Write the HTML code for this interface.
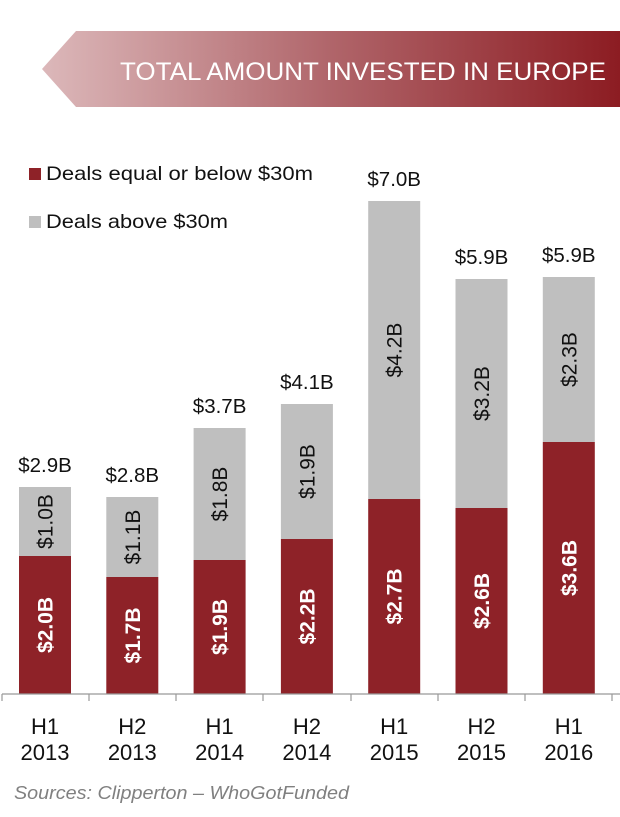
<!DOCTYPE html>
<html><head><meta charset="utf-8"><style>
html,body{margin:0;padding:0;background:#fff;}
svg{display:block;font-family:"Liberation Sans",sans-serif;}
</style></head><body>
<svg width="620" height="817" viewBox="0 0 620 817" xmlns="http://www.w3.org/2000/svg">
<defs>
<linearGradient id="g" x1="0" x2="1" y1="0" y2="0">
<stop offset="0" stop-color="#dcb8ba"/>
<stop offset="0.5" stop-color="#b0656a"/>
<stop offset="1" stop-color="#8c1c22"/>
</linearGradient>
</defs>
<polygon points="76,31 620,31 620,107 76,107 42,69" fill="url(#g)"/>
<text x="606" y="80" text-anchor="end" font-size="25" fill="#fff" textLength="486" lengthAdjust="spacingAndGlyphs">TOTAL AMOUNT INVESTED IN EUROPE</text>

<rect x="29" y="168" width="12" height="12" fill="#8e2228"/>
<text x="46" y="180" font-size="19.5" fill="#111" textLength="267" lengthAdjust="spacingAndGlyphs">Deals equal or below $30m</text>
<rect x="29" y="216" width="12" height="12" fill="#bfbfbf"/>
<text x="46" y="228" font-size="19.5" fill="#111" textLength="182" lengthAdjust="spacingAndGlyphs">Deals above $30m</text>

<g fill="#bfbfbf">
<rect x="19" y="487" width="52" height="69"/>
<rect x="106.3" y="497" width="52" height="80"/>
<rect x="193.6" y="428" width="52" height="132"/>
<rect x="280.9" y="404" width="52" height="135"/>
<rect x="368.2" y="201" width="52" height="298"/>
<rect x="455.5" y="279" width="52" height="229"/>
<rect x="542.8" y="277" width="52" height="165"/>
</g>
<g fill="#8e2228">
<rect x="19" y="556" width="52" height="138"/>
<rect x="106.3" y="577" width="52" height="117"/>
<rect x="193.6" y="560" width="52" height="134"/>
<rect x="280.9" y="539" width="52" height="155"/>
<rect x="368.2" y="499" width="52" height="195"/>
<rect x="455.5" y="508" width="52" height="186"/>
<rect x="542.8" y="442" width="52" height="252"/>
</g>
<g font-size="20.5" fill="#111" text-anchor="middle">
<text x="45" y="472">$2.9B</text>
<text x="132.3" y="482">$2.8B</text>
<text x="219.6" y="413">$3.7B</text>
<text x="306.9" y="389">$4.1B</text>
<text x="394.2" y="186">$7.0B</text>
<text x="481.5" y="264">$5.9B</text>
<text x="568.8" y="262">$5.9B</text>
</g>
<g font-size="21" fill="#111" text-anchor="middle">
<text transform="translate(52.5,521.5) rotate(-90)">$1.0B</text>
<text transform="translate(139.8,537) rotate(-90)">$1.1B</text>
<text transform="translate(227.1,494) rotate(-90)">$1.8B</text>
<text transform="translate(314.4,471.5) rotate(-90)">$1.9B</text>
<text transform="translate(401.7,350) rotate(-90)">$4.2B</text>
<text transform="translate(489,393.5) rotate(-90)">$3.2B</text>
<text transform="translate(576.3,359.5) rotate(-90)">$2.3B</text>
</g>
<g font-size="21" font-weight="bold" fill="#fff" text-anchor="middle">
<text transform="translate(52.5,625) rotate(-90)">$2.0B</text>
<text transform="translate(139.8,635.5) rotate(-90)">$1.7B</text>
<text transform="translate(227.1,627) rotate(-90)">$1.9B</text>
<text transform="translate(314.4,616.5) rotate(-90)">$2.2B</text>
<text transform="translate(401.7,596.5) rotate(-90)">$2.7B</text>
<text transform="translate(489,601) rotate(-90)">$2.6B</text>
<text transform="translate(576.3,568) rotate(-90)">$3.6B</text>
</g>
<line x1="2" y1="694" x2="620" y2="694" stroke="#999" stroke-width="1.2"/>
<g stroke="#999" stroke-width="1.2">
<line x1="2" y1="694" x2="2" y2="701"/><line x1="89" y1="694" x2="89" y2="701"/><line x1="176" y1="694" x2="176" y2="701"/><line x1="263" y1="694" x2="263" y2="701"/><line x1="351" y1="694" x2="351" y2="701"/><line x1="438" y1="694" x2="438" y2="701"/><line x1="525" y1="694" x2="525" y2="701"/><line x1="612" y1="694" x2="612" y2="701"/>
</g>
<g font-size="22" fill="#111" text-anchor="middle">
<text x="45" y="734">H1</text><text x="45" y="760">2013</text>
<text x="132.3" y="734">H2</text><text x="132.3" y="760">2013</text>
<text x="219.6" y="734">H1</text><text x="219.6" y="760">2014</text>
<text x="306.9" y="734">H2</text><text x="306.9" y="760">2014</text>
<text x="394.2" y="734">H1</text><text x="394.2" y="760">2015</text>
<text x="481.5" y="734">H2</text><text x="481.5" y="760">2015</text>
<text x="568.8" y="734">H1</text><text x="568.8" y="760">2016</text>
</g>
<text x="14" y="799" font-size="18" font-style="italic" fill="#808080" textLength="335" lengthAdjust="spacingAndGlyphs">Sources: Clipperton – WhoGotFunded</text>
</svg>
</body></html>
